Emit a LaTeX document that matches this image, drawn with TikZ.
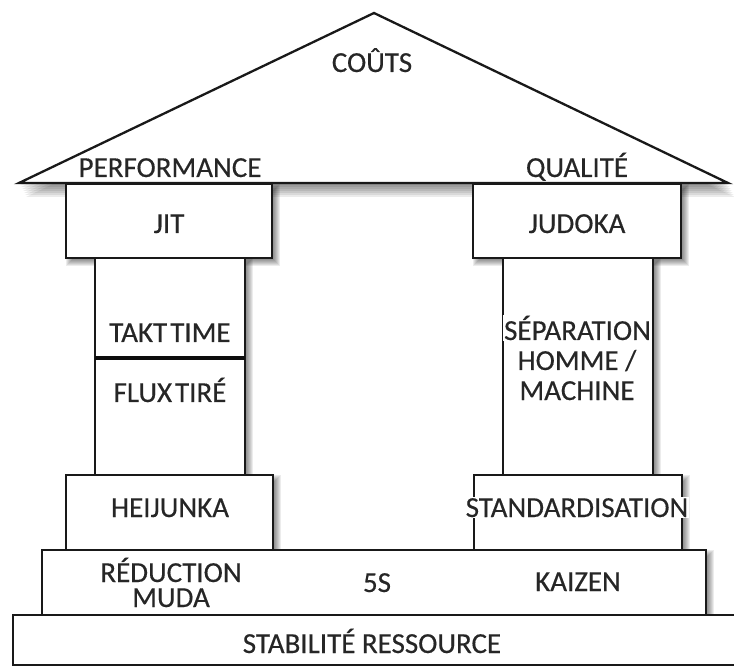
\documentclass[tikz,border=0pt]{standalone}
\usepackage{fontspec}
\setmainfont{Carlito}
\newfontfamily\lblfont[FakeBold=0.35]{Carlito}
\newcommand\shbox[4]{\foreach \r in {0,...,8}{\fill[black,opacity=0.075] ({#1+8-\r},{#2+8-\r}) rectangle ({#3+\r},{#4+\r});}}
\begin{document}
\begin{tikzpicture}[x=1pt,y=-1pt,
  box/.style={draw=black!90, fill=white, line width=2.3pt},
  lbl/.style={text=black!85, font=\lblfont\fontsize{29}{25}\selectfont, inner sep=0pt, anchor=base},
  wlbl/.style={lbl, fill=white, inner sep=1pt},
]
\useasboundingbox (0,0) rectangle (734,668);
% shadows
\shbox{42}{550}{706}{615}
\shbox{66}{475}{273}{550}
\shbox{474}{475}{682}{550}
\shbox{95}{258}{245}{475}
\shbox{503}{258}{653}{475}
\shbox{66}{184}{272}{258}
\shbox{473}{184}{681}{258}
\foreach \k in {1,...,7}{\fill[black,opacity=0.08] ({19+\k},{183+2*\k}) -- (374,{13+2*\k}) -- ({728+\k},{183+2*\k}) -- cycle;}
% boxes
\draw[box] (13,615) rectangle (745,665);
\draw[box] (42,550) rectangle (706,615);
\draw[box] (66,475) rectangle (273,550);
\draw[box] (474,475) rectangle (682,550);
\draw[box] (95,258) rectangle (245,475);
\draw[box] (503,258) rectangle (653,475);
\draw[box] (66,184) rectangle (272,258);
\draw[box] (473,184) rectangle (681,258);
\draw[box, line join=miter] (19,183) -- (374,13) -- (728,183) -- cycle;
\draw[line width=4.5pt, black!95] (95,358) -- (245,358);
% labels
\node[lbl] (couts) at (372,72) {COÛTS};
\node[lbl] (perf) at (170,177) {PERFORMANCE};
\node[lbl] (qual) at (577,177) {QUALITÉ};
\node[lbl] (jit) at (169,233) {JIT};
\node[lbl] (judoka) at (577,233) {JUDOKA};
\node[lbl] (takt) at (170,342) {\spaceskip=3pt TAKT TIME};
\node[lbl] (flux) at (170,402) {\spaceskip=3pt FLUX TIRÉ};
\node[wlbl] (sep) at (577.5,340) {SÉPARATION};
\node[lbl] (homme) at (577,370) {HOMME /};
\node[lbl] (machine) at (577,400) {MACHINE};
\node[lbl] (heij) at (170,517) {HEIJUNKA};
\node[wlbl] (std) at (577,517) {STANDARDISATION};
\node[lbl, align=center] (red) at (171,607) {RÉDUCTION\\MUDA};
\node[lbl] (five) at (377,592) {5S};
\node[lbl] (kaizen) at (578,591) {KAIZEN};
\node[lbl] (stab) at (372,653) {STABILITÉ RESSOURCE};
\end{tikzpicture}
\end{document}
